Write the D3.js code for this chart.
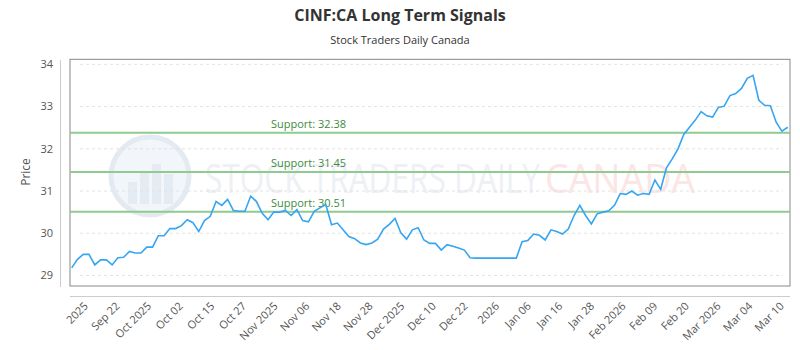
<html>
<head>
  <meta charset="UTF-8">
  <title>CINF:CA Long Term Signals</title>
  <script src="https://d3js.org/d3.v7.min.js"></script>
  <style>
    body { margin: 0; background: #fff; }
    text { font-family: "Open Sans", sans-serif; }
  </style>
</head>
<body>
  <svg id="chart" width="800" height="350"></svg>
  <script>
    // closing prices
    const prices = [
      29.18, 29.38, 29.50, 29.50, 29.25, 29.37, 29.37, 29.25, 29.42, 29.43,
      29.57, 29.53, 29.53, 29.67, 29.67, 29.94, 29.94, 30.11, 30.11, 30.18,
      30.32, 30.25, 30.04, 30.30, 30.40, 30.75, 30.66, 30.80, 30.54, 30.52,
      30.52, 30.88, 30.75, 30.47, 30.32, 30.50, 30.50, 30.54, 30.42, 30.56,
      30.30, 30.27, 30.52, 30.60, 30.68, 30.20, 30.24, 30.08, 29.92, 29.87,
      29.77, 29.73, 29.77, 29.86, 30.10, 30.21, 30.35, 30.01, 29.86, 30.08,
      30.13, 29.84, 29.76, 29.76, 29.60, 29.73, 29.69, 29.65, 29.60, 29.42,
      29.41, 29.41, 29.41, 29.41, 29.41, 29.41, 29.41, 29.41, 29.80, 29.83,
      29.98, 29.95, 29.84, 30.08, 30.04, 29.98, 30.10, 30.42, 30.66, 30.42,
      30.22, 30.46, 30.50, 30.53, 30.66, 30.94, 30.92, 31.00, 30.90, 30.94,
      30.92, 31.26, 31.04, 31.55, 31.76, 32.00, 32.34, 32.51, 32.68, 32.88,
      32.78, 32.75, 32.98, 33.01, 33.26, 33.31, 33.43, 33.67, 33.74, 33.15,
      33.03, 33.02, 32.63, 32.42, 32.51
    ];

    const supports = [32.38, 31.45, 30.51];

    const xLabels = ["2025", "Sep 22", "Oct 2025", "Oct 02", "Oct 15", "Oct 27",
      "Nov 2025", "Nov 06", "Nov 18", "Nov 28", "Dec 2025", "Dec 10", "Dec 22",
      "2026", "Jan 06", "Jan 16", "Jan 28", "Feb 2026", "Feb 09", "Feb 20",
      "Mar 2026", "Mar 04", "Mar 10"];

    const yTicks = [29, 30, 31, 32, 33, 34];

    const svg = d3.select("#chart");
    const pLeft = 70, pRight = 790, pTop = 59.3, pBottom = 286;

    const x = d3.scaleLinear().domain([0, prices.length - 1]).range([71.7, 787.7]);
    const y = d3.scaleLinear().domain([28.75, 34.12]).range([pBottom, pTop]);
    const xl = d3.scalePoint().domain(xLabels).range([86, 782]);

    // titles
    svg.append("text").attr("x", 400).attr("y", 21).attr("text-anchor", "middle")
      .attr("font-size", 16).attr("font-weight", "bold").attr("fill", "#333")
      .text("CINF:CA Long Term Signals");
    svg.append("text").attr("x", 400).attr("y", 44).attr("text-anchor", "middle")
      .attr("font-size", 11).attr("fill", "#333")
      .text("Stock Traders Daily Canada");

    // watermark
    const wm = svg.append("g").attr("opacity", 0.9);
    wm.append("circle").attr("cx", 150).attr("cy", 176).attr("r", 39)
      .attr("fill", "#f1f4f9").attr("stroke", "#e2e8f1").attr("stroke-width", 5);
    [[128, 22], [140, 32], [152, 40], [164, 30]].forEach(b => {
      wm.append("rect").attr("x", b[0]).attr("y", 204 - b[1]).attr("width", 9).attr("height", b[1])
        .attr("fill", "#e3e9f2");
    });
    wm.append("text").attr("x", 205).attr("y", 193).attr("font-size", 40)
      .attr("textLength", 335).attr("lengthAdjust", "spacingAndGlyphs")
      .attr("fill", "#eceff4").text("STOCK TRADERS DAILY");
    wm.append("text").attr("x", 545).attr("y", 193).attr("font-size", 40)
      .attr("textLength", 150).attr("lengthAdjust", "spacingAndGlyphs")
      .attr("fill", "#fce3e3").text("CANADA");

    // grid
    svg.append("g").selectAll("line").data(yTicks).join("line")
      .attr("x1", 80).attr("x2", 783)
      .attr("y1", d => y(d)).attr("y2", d => y(d))
      .attr("stroke", "#e2e2e2").attr("stroke-dasharray", "3,3");

    // frame and axis lines
    svg.append("rect").attr("x", pLeft).attr("y", pTop)
      .attr("width", pRight - pLeft).attr("height", pBottom - pTop)
      .attr("fill", "none").attr("stroke", "#888");
    svg.append("line").attr("x1", 60.5).attr("x2", 60.5).attr("y1", 60).attr("y2", 287)
      .attr("stroke", "#ccc");
    svg.append("line").attr("x1", pLeft).attr("x2", pRight).attr("y1", 296.5).attr("y2", 296.5)
      .attr("stroke", "#ccc");

    // y labels
    svg.append("g").selectAll("text").data(yTicks).join("text")
      .attr("x", 53).attr("y", d => y(d)).attr("dy", "0.35em")
      .attr("text-anchor", "end").attr("font-size", 11).attr("fill", "#555")
      .text(d => d);
    svg.append("text").attr("transform", "translate(30,172) rotate(-90)")
      .attr("text-anchor", "middle").attr("font-size", 12).attr("fill", "#555")
      .text("Price");

    // x labels
    svg.append("g").selectAll("text").data(xLabels).join("text")
      .attr("transform", d => `translate(${xl(d)},304) rotate(-45)`)
      .attr("text-anchor", "end").attr("dy", "0.35em")
      .attr("font-size", 11).attr("fill", "#555")
      .text(d => d);

    // support lines
    const sup = svg.append("g");
    sup.selectAll("line").data(supports).join("line")
      .attr("x1", pLeft).attr("x2", pRight)
      .attr("y1", d => y(d)).attr("y2", d => y(d))
      .attr("stroke", "#8fcb8f").attr("stroke-width", 2);
    sup.selectAll("text").data(supports).join("text")
      .attr("x", 271).attr("y", d => y(d) - 5)
      .attr("font-size", 11).attr("fill", "#3d8b3d")
      .text(d => "Support: " + d.toFixed(2));

    // price line
    const line = d3.line().x((d, i) => x(i)).y(d => y(d));
    svg.append("path").datum(prices)
      .attr("d", line).attr("fill", "none")
      .attr("stroke", "#36a5f2").attr("stroke-width", 1.6);
  </script>
</body>
</html>
